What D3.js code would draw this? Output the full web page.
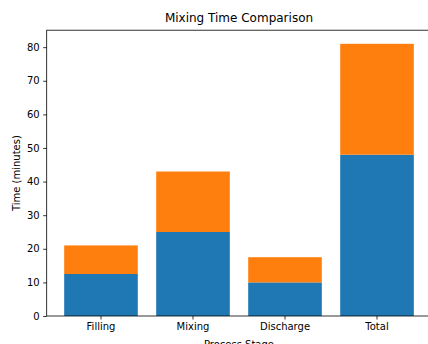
<!DOCTYPE html>
<html>
<head>
<meta charset="utf-8">
<script src="https://cdn.jsdelivr.net/npm/d3@7"></script>
<style>
  html, body { margin: 0; padding: 0; background: #fff; }
  svg { display: block; font-family: "DejaVu Sans", sans-serif; }
</style>
</head>
<body>
<svg id="chart" width="428" height="344"></svg>
<script>
// Data
const categories = ["Filling", "Mixing", "Discharge", "Total"];
const seriesA = [12.5, 25, 10, 48];   // blue (bottom)
const seriesB = [8.5, 18, 7.5, 33];   // orange (top)
const yTicks = [0, 10, 20, 30, 40, 50, 60, 70, 80];
const title = "Mixing Time Comparison";
const xLabel = "Process Stage";
const yLabel = "Time (minutes)";

const colors = ["#1f77b4", "#ff7f0e"];

const svg = d3.select("#chart");
const plot = { left: 46.7, right: 431.3, top: 30.2, bottom: 316 };

const totals = categories.map((c, i) => seriesA[i] + seriesB[i]);
const yMax = d3.max(totals) * 1.05;

const x = d3.scaleBand()
  .domain(categories)
  .range([plot.left, plot.right])
  .paddingInner(0.2)
  .paddingOuter(0.19);

const y = d3.scaleLinear()
  .domain([0, yMax])
  .range([plot.bottom, plot.top]);

// Bars
const g = svg.append("g");
g.selectAll("rect.a").data(categories).join("rect")
  .attr("class", "a")
  .attr("x", d => x(d))
  .attr("width", x.bandwidth())
  .attr("y", (d, i) => y(seriesA[i]))
  .attr("height", (d, i) => y(0) - y(seriesA[i]))
  .attr("fill", colors[0]);

g.selectAll("rect.b").data(categories).join("rect")
  .attr("class", "b")
  .attr("x", d => x(d))
  .attr("width", x.bandwidth())
  .attr("y", (d, i) => y(seriesA[i] + seriesB[i]))
  .attr("height", (d, i) => y(seriesA[i]) - y(seriesA[i] + seriesB[i]))
  .attr("fill", colors[1]);

// Axes
const xAxis = d3.axisBottom(x).tickSize(3.5).tickPadding(3.5).tickSizeOuter(0);
const yAxis = d3.axisLeft(y).tickValues(yTicks).tickSize(3.5).tickPadding(3.5).tickSizeOuter(0);

const gx = svg.append("g").attr("transform", `translate(0,${plot.bottom})`).call(xAxis);
const gy = svg.append("g").attr("transform", `translate(${plot.left},0)`).call(yAxis);

[gx, gy].forEach(a => {
  a.select(".domain").remove();
  a.selectAll(".tick line").attr("stroke", "#000").attr("stroke-width", 0.8);
  a.selectAll(".tick text").attr("font-size", 10).attr("fill", "#000")
    .attr("font-family", "DejaVu Sans, sans-serif");
});

// Spines
svg.append("rect")
  .attr("x", plot.left).attr("y", plot.top)
  .attr("width", plot.right - plot.left).attr("height", plot.bottom - plot.top)
  .attr("fill", "none").attr("stroke", "#000").attr("stroke-width", 0.8);

// Title and labels
svg.append("text")
  .attr("x", (plot.left + plot.right) / 2).attr("y", 22)
  .attr("text-anchor", "middle").attr("font-size", 12).attr("fill", "#000")
  .text(title);

svg.append("text")
  .attr("x", (plot.left + plot.right) / 2).attr("y", 347.5)
  .attr("text-anchor", "middle").attr("font-size", 10).attr("fill", "#000")
  .text(xLabel);

svg.append("text")
  .attr("transform", `translate(16,${(plot.top + plot.bottom) / 2}) rotate(-90)`)
  .attr("text-anchor", "middle").attr("dominant-baseline", "central")
  .attr("font-size", 10).attr("fill", "#000")
  .text(yLabel);
</script>
</body>
</html>
